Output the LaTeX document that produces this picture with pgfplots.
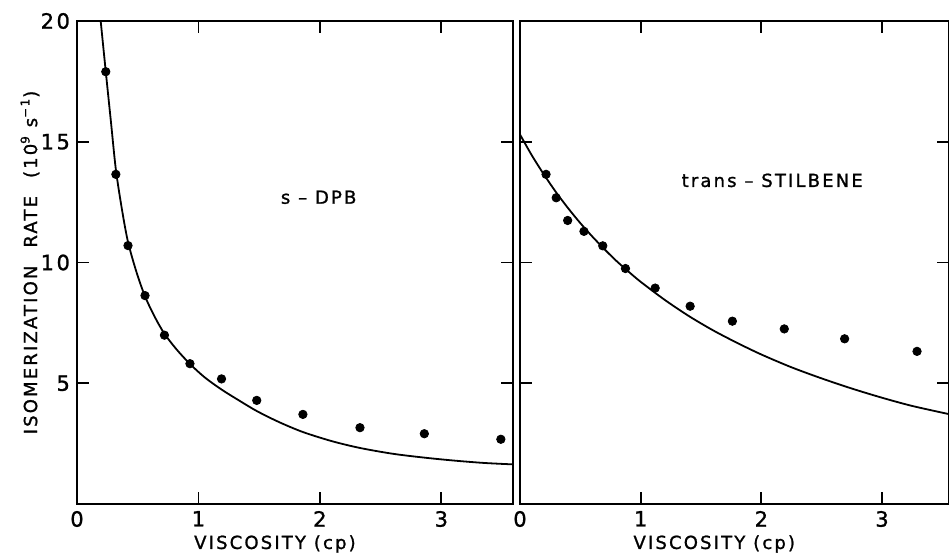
\documentclass[border=0pt]{standalone}
\usepackage{fontspec}
\setmainfont{DejaVu Sans}[LetterSpace=12, FakeBold=1.2]
\usepackage{pgfplots}
\pgfplotsset{compat=1.18}

\pgfplotstableread{
x y
0.237 17.9
0.32 13.65
0.42 10.7
0.56 8.63
0.72 6.99
0.93 5.81
1.19 5.18
1.48 4.29
1.86 3.71
2.33 3.16
2.86 2.91
3.49 2.68
}\dpbdots

\pgfplotstableread{
x y
0.195 20.0
0.237 17.9
0.28 15.8
0.32 13.85
0.37 12.2
0.42 10.85
0.49 9.6
0.56 8.6
0.64 7.75
0.72 7.05
0.82 6.4
0.93 5.8
1.05 5.25
1.19 4.74
1.33 4.3
1.48 3.85
1.66 3.4
1.86 2.98
2.1 2.6
2.33 2.32
2.6 2.08
2.86 1.92
3.1 1.8
3.35 1.7
3.59 1.64
}\dpbcurve

\pgfplotstableread{
x y
0.216 13.65
0.30 12.68
0.395 11.74
0.53 11.29
0.686 10.69
0.874 9.75
1.12 8.94
1.41 8.19
1.76 7.57
2.19 7.25
2.69 6.84
3.29 6.32
}\stildots

\pgfplotstableread{
x y
0.0 15.30
0.1 14.42
0.2 13.63
0.3 12.90
0.4 12.24
0.5 11.63
0.6 11.07
0.7 10.55
0.8 10.06
0.9 9.62
1.0 9.20
1.2 8.45
1.4 7.78
1.6 7.19
1.8 6.67
2.0 6.19
2.25 5.66
2.5 5.20
2.75 4.78
3.0 4.40
3.25 4.06
3.556 3.72
}\stilcurve

\pgfplotsset{
  panel/.style={
    scale only axis,
    height=241.5pt,
    ymin=0, ymax=20,
    xtick={0,1,2,3},
    ytick={5,10,15,20},
    tick align=inside,
    tick pos=both,
    major tick length=6pt,
    axis line style={line width=0.9pt, black},
    every tick/.style={line width=0.9pt, black},
    /pgf/number format/assume math mode=true,
    tick label style={font=\fontsize{10.5}{12}\selectfont},
    clip mode=individual,
  },
  dots/.style={only marks, mark=*, mark size=2.1pt, black},
  curve/.style={smooth, no marks, line width=0.9pt, black},
}

\begin{document}
\begin{tikzpicture}[font=\fontsize{9}{11}\selectfont]
\begin{axis}[panel,
  width=218pt,
  xmin=0, xmax=3.59,
]
\addplot[curve] table[x=x,y=y] {\dpbcurve};
\addplot[dots] table[x=x,y=y] {\dpbdots};
\node at (axis cs:1.99,12.7) {s \textendash{} DPB};
\node at (axis cs:1.63,0) [yshift=-20pt] {VISCOSITY (cp)};
\node[rotate=90] at (axis cs:-0.387,10) {ISOMERIZATION\hspace{1em}RATE\hspace{1em}(10\textsuperscript{9} s\textsuperscript{−1})};
\end{axis}
\begin{axis}[panel,
  at={(221.5pt,0pt)}, anchor=south west,
  width=214.5pt,
  xmin=0, xmax=3.555,
  yticklabels={},
]
\addplot[curve] table[x=x,y=y] {\stilcurve};
\addplot[dots] table[x=x,y=y] {\stildots};
\node at (axis cs:2.09,13.4) {trans \textendash{} STILBENE};
\node at (axis cs:1.61,0) [yshift=-20pt] {VISCOSITY (cp)};
\end{axis}
\pgfresetboundingbox
\useasboundingbox (-38.5pt,-26pt) rectangle (436pt,252pt);
\end{tikzpicture}
\end{document}
